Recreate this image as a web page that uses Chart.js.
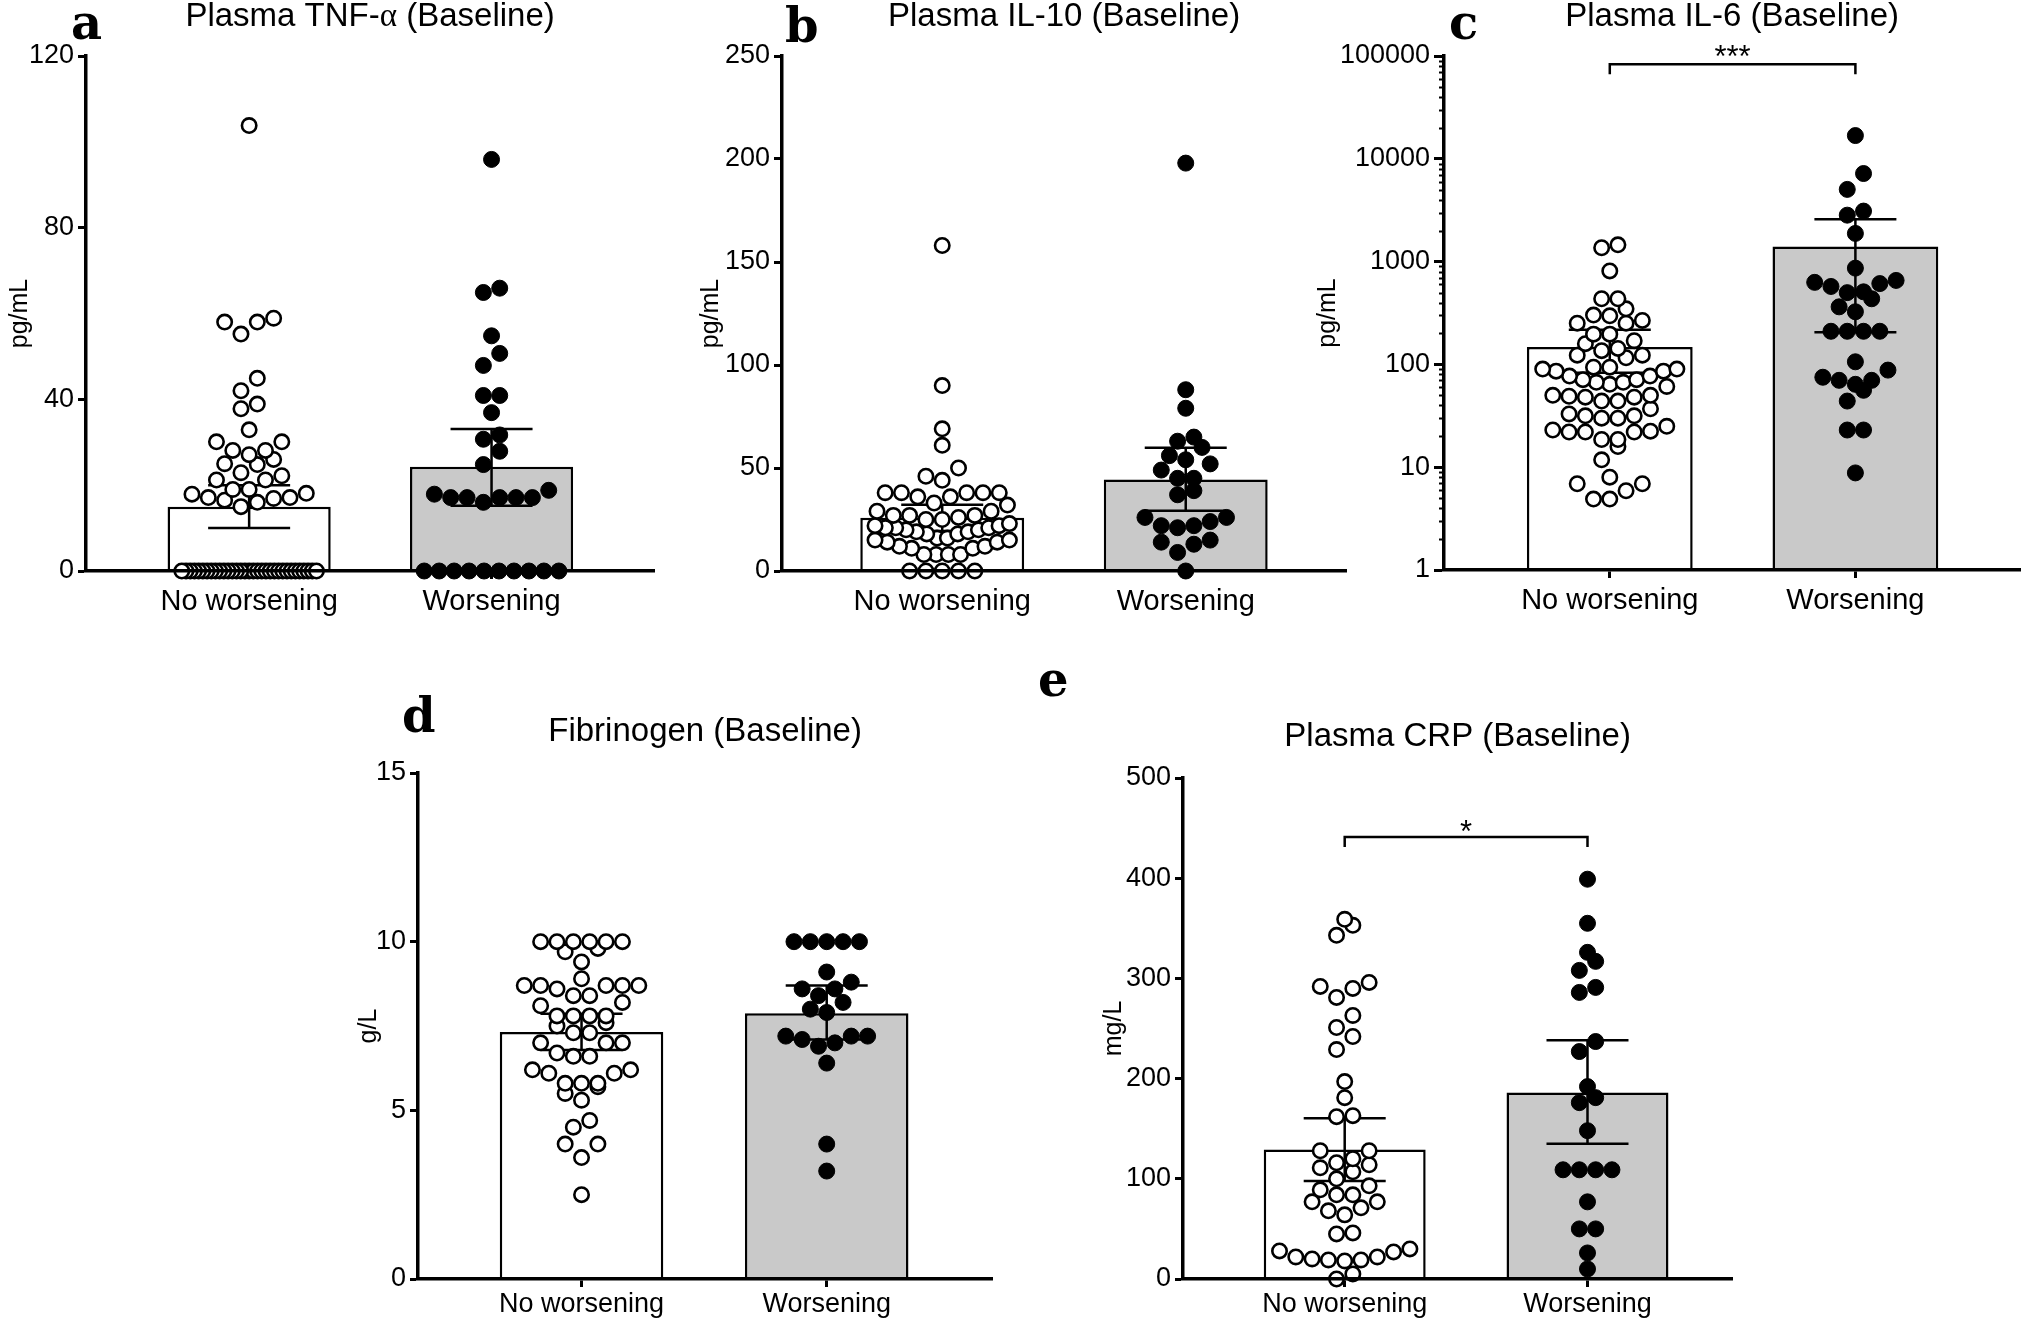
<!DOCTYPE html>
<html>
<head>
<meta charset="utf-8">
<script src="https://cdn.jsdelivr.net/npm/chart.js@4"></script>
<style>
  body { margin: 0; background: #fff; overflow: hidden; }
  #fig { position: relative; width: 2030px; height: 1322px; }
  canvas { position: absolute; }
</style>
</head>
<body>
<div id="fig">
  <canvas id="pa" width="664" height="640" style="left:0px;top:0px"></canvas>
  <canvas id="pb" width="694" height="640" style="left:662px;top:0px"></canvas>
  <canvas id="pc" width="730" height="640" style="left:1300px;top:0px"></canvas>
  <canvas id="pd" width="662" height="652" style="left:340px;top:670px"></canvas>
  <canvas id="pe" width="722" height="652" style="left:1020px;top:670px"></canvas>
</div>
<script>
// groups on the x axis
const groups = ["No worsening", "Worsening"];

// a - TNF-alpha (pg/mL)
const tnfNo = [103.8, 58.9, 58.0, 58.0, 55.2, 44.9, 42.0, 38.9, 37.8, 32.9, 30.1, 30.1,
  28.1, 28.1, 27.1, 26.0, 25.0, 24.8, 22.9, 22.2, 21.2, 21.2, 19.0, 19.0, 18.1, 17.9,
  17.1, 17.1, 16.9, 16.5, 16.0, 15.0,
  0, 0, 0, 0, 0, 0, 0, 0, 0, 0, 0, 0, 0, 0, 0, 0, 0, 0, 0, 0, 0, 0, 0, 0, 0, 0, 0, 0, 0, 0, 0, 0, 0];
const tnfYes = [95.9, 65.9, 64.9, 54.8, 50.7, 47.9, 40.9, 40.9, 36.9, 31.7, 30.7, 27.9,
  24.8, 18.8, 17.9, 17.1, 17.1, 17.1, 17.1, 17.1, 16.0, 0, 0, 0, 0, 0, 0, 0, 0, 0, 0];
const tnfMean = [15.0, 24.3];
const tnfLow = [10.0, 15.2];
const tnfHigh = [20.0, 33.1];
const tnfTicks = [0, 40, 80, 120];

// b - IL-10 (pg/mL)
const il10No = [158, 90, 69, 61, 50, 46, 44, 38, 38, 38, 38, 38, 36, 36, 33, 32, 29, 29,
  27, 27, 27, 26, 25, 25, 23, 22, 22, 21, 21, 21, 20, 20, 19, 19, 18, 18, 16, 16, 15, 15,
  14, 14, 12, 12, 11, 11, 8, 8, 8, 8, 0, 0, 0, 0, 0];
const il10Yes = [198, 88, 79, 65, 63, 60, 56, 54, 52, 49, 45, 45, 39, 37, 26, 26, 24, 22,
  22, 21, 15, 14, 13, 9, 0];
const il10Mean = [25.9, 44.4];
const il10Low = [19.4, 29.2];
const il10High = [32.2, 59.8];
const il10Ticks = [0, 50, 100, 150, 200, 250];

// c - IL-6 (pg/mL, log axis)
const il6No = [1455, 1364, 811, 435, 435, 347, 302, 297, 268, 252, 252, 197, 197, 170, 159,
  143, 136, 123, 123, 116, 94, 94, 90, 90, 86, 86, 77, 77, 71, 71, 67, 67, 64, 61, 50, 50,
  49, 48, 48, 44, 44, 37, 33, 31.6, 31.6, 30, 30, 25, 23, 22, 22, 22.4, 22, 18.6, 18.6,
  15.9, 11.8, 8.0, 6.9, 6.9, 5.9, 4.9, 4.9];
const il6Yes = [16830, 7190, 5040, 3100, 2830, 1880, 864, 656, 628, 611, 573, 508, 499, 435,
  363, 325, 210, 210, 210, 210, 106, 88, 75, 70, 70, 64, 56, 44, 23, 23, 8.8];
const il6Mean = [148, 1403];
const il6Low = [83, 206];
const il6High = [217, 2586];
const il6Ticks = [1, 10, 100, 1000, 10000, 100000];

// d - Fibrinogen (g/L)
const fibNo = [10.0, 10.0, 10.0, 10.0, 10.0, 10.0, 9.8, 9.7, 9.4, 8.9, 8.7, 8.7, 8.7, 8.7,
  8.7, 8.6, 8.4, 8.4, 8.2, 8.1, 7.8, 7.8, 7.8, 7.8, 7.6, 7.5, 7.3, 7.3, 7.0, 7.0, 7.0, 6.7,
  6.6, 6.6, 6.2, 6.2, 6.1, 6.1, 5.8, 5.8, 5.8, 5.7, 5.5, 5.3, 4.7, 4.5, 4.0, 4.0, 3.6, 2.5];
const fibYes = [10.0, 10.0, 10.0, 10.0, 10.0, 9.1, 8.8, 8.6, 8.6, 8.4, 8.2, 8.0, 7.9, 7.2,
  7.2, 7.2, 7.1, 7.0, 6.9, 6.4, 4.0, 3.2];
const fibMean = [7.32, 7.88];
const fibLow = [6.79, 7.10];
const fibHigh = [7.86, 8.70];
const fibTicks = [0, 5, 10, 15];

// e - CRP (mg/L)
const crpNo = [359, 353, 343, 296, 292, 290, 281, 263, 251, 242, 229, 197, 181, 163, 162,
  128, 128, 120, 116, 114, 111, 107, 100, 93, 89, 84, 84, 77, 77, 71, 68, 64, 46, 45, 30,
  28, 27, 22, 22, 20, 19, 19, 18, 5, 0];
const crpYes = [399, 355, 326, 317, 308, 291, 286, 237, 227, 192, 181, 176, 148, 109, 109,
  109, 109, 77, 50, 50, 26, 10];
const crpMean = [129.3, 186.2];
const crpLow = [97.7, 135.1];
const crpHigh = [160.4, 238.2];
const crpTicks = [0, 100, 200, 300, 400, 500];

const SANS = '"Liberation Sans", Arial, Helvetica, sans-serif';
const SERIF = '"Liberation Serif", "Times New Roman", serif';
const LETTER = '"DejaVu Serif", "Liberation Serif", serif';
const CAP = 41;           // half width of error bar caps, px
const STEP = 16.5;        // swarm spacing, px
const ROW = 16;           // swarm row height, px
const MAXW = 136;         // widest swarm row, px

// lays points out in rows like Prism does, lowest value of a row in the middle
function swarm(chart, values, center) {
  const xs = chart.scales.x, ys = chart.scales.y;
  const unit = xs.getPixelForValue(1) - xs.getPixelForValue(0);
  const pts = values.map(v => ({ v, py: ys.getPixelForValue(v) })).sort((a, b) => b.py - a.py);
  const rows = [];
  let row = null;
  for (const p of pts) {
    if (!row || row[0].py - p.py >= ROW) { row = []; rows.push(row); }
    row.push(p);
  }
  const out = [];
  for (const r of rows) {
    const n = r.length;
    const step = n > 1 ? Math.min(STEP, MAXW / (n - 1)) : 0;
    const slots = [];
    for (let k = 0; k < n; k++) slots.push((k - (n - 1) / 2) * step);
    slots.sort((a, b) => Math.abs(a) - Math.abs(b) || a - b);
    r.forEach((p, i) => out.push({ x: center + slots[i] / unit, y: p.v }));
  }
  return out;
}

const panelDecor = {
  id: 'panelDecor',
  afterDatasetDraw(chart, args, o) {
    if (args.index !== 0) return;
    const { ctx } = chart;
    const x = chart.scales.x, y = chart.scales.y;
    ctx.save();
    ctx.strokeStyle = '#000';
    ctx.lineWidth = 2.5;
    o.low.forEach((lo, i) => {
      const px = x.getPixelForValue(i);
      const yl = y.getPixelForValue(lo), yh = y.getPixelForValue(o.high[i]);
      ctx.beginPath();
      ctx.moveTo(px, yl); ctx.lineTo(px, yh);
      ctx.moveTo(px - CAP, yl); ctx.lineTo(px + CAP, yl);
      ctx.moveTo(px - CAP, yh); ctx.lineTo(px + CAP, yh);
      ctx.stroke();
    });
    ctx.restore();
  },
  afterDraw(chart, args, o) {
    const { ctx, chartArea: ca } = chart;
    const x = chart.scales.x, y = chart.scales.y;
    ctx.save();
    ctx.fillStyle = '#000';
    ctx.strokeStyle = '#000';
    // title, drawn in runs so the greek letter can be serif
    ctx.textBaseline = 'middle';
    ctx.textAlign = 'left';
    let total = 0;
    o.title.forEach(([t, fam]) => { ctx.font = '33px ' + fam; total += ctx.measureText(t).width; });
    let tx = (ca.left + ca.right) / 2 - total / 2;
    o.title.forEach(([t, fam]) => {
      ctx.font = '33px ' + fam;
      ctx.fillText(t, tx, o.titleY);
      tx += ctx.measureText(t).width;
    });
    // panel letter
    ctx.textBaseline = 'alphabetic';
    ctx.font = 'bold 48px ' + LETTER;
    ctx.fillText(o.letter[0], o.letter[1], o.letter[2]);
    // significance bracket
    if (o.bracket) {
      const x0 = x.getPixelForValue(0), x1 = x.getPixelForValue(1);
      const yb = y.getPixelForValue(o.bracket.at);
      ctx.lineWidth = 2.5;
      ctx.beginPath();
      ctx.moveTo(x0, yb + 10); ctx.lineTo(x0, yb); ctx.lineTo(x1, yb); ctx.lineTo(x1, yb + 10);
      ctx.stroke();
      ctx.font = '31px ' + SANS;
      ctx.textAlign = 'center';
      ctx.fillText(o.bracket.text, (x0 + x1) / 2, yb + o.bracket.dy);
    }
    // minor ticks of a log axis
    if (o.minor) {
      ctx.lineWidth = 2;
      ctx.beginPath();
      for (let d = 1; d < 100000; d *= 10) {
        for (let k = 2; k <= 9; k++) {
          const py = Math.round(y.getPixelForValue(k * d)) + 0.5;
          ctx.moveTo(ca.left - 5, py); ctx.lineTo(ca.left, py);
        }
      }
      ctx.stroke();
    }
    ctx.restore();
  }
};
Chart.register(panelDecor);

function buildPanel(p) {
  const tickFont = { family: SANS, size: 27 };
  const chart = new Chart(document.getElementById(p.id), {
    type: 'bar',
    data: {
      datasets: [
        {
          type: 'bar',
          data: p.mean.map((m, i) => ({ x: i, y: m })),
          backgroundColor: ['#ffffff', '#c9c9c9'],
          borderColor: '#000',
          borderWidth: 2.5,
          barPercentage: p.barPct,
          categoryPercentage: 1,
          order: 2
        },
        {
          type: 'scatter', data: [], order: 1, clip: false,
          pointRadius: 7.2, pointBorderWidth: 2.6,
          pointBackgroundColor: '#fff', pointBorderColor: '#000'
        },
        {
          type: 'scatter', data: [], order: 1, clip: false,
          pointRadius: 8, pointBorderWidth: 1,
          pointBackgroundColor: '#000', pointBorderColor: '#000'
        }
      ]
    },
    options: {
      responsive: false,
      animation: false,
      devicePixelRatio: 1,
      events: [],
      layout: { padding: { top: p.padTop, right: p.padRight, bottom: 0, left: 0 } },
      plugins: {
        legend: { display: false },
        tooltip: { enabled: false },
        panelDecor: {
          low: p.low, high: p.high, title: p.title, titleY: p.titleY,
          letter: p.letter, bracket: p.bracket, minor: p.minor
        }
      },
      scales: {
        x: {
          type: 'linear', min: p.xMin, max: p.xMax, offset: false,
          afterFit: s => { s.height = p.axisH; },
          afterBuildTicks: s => { s.ticks = [{ value: 0 }, { value: 1 }]; },
          ticks: {
            font: { family: SANS, size: p.catSize }, color: '#000', padding: p.catPad,
            maxRotation: 0, autoSkip: false, callback: v => groups[v]
          },
          grid: {
            offset: false, display: true, drawOnChartArea: false, drawTicks: true,
            tickLength: 8, tickWidth: 3, tickColor: '#000'
          },
          border: { display: true, color: '#000', width: 3.5, z: 1 }
        },
        y: {
          type: p.yType, min: p.yTicks[0], max: p.yTicks[p.yTicks.length - 1],
          afterFit: s => { s.width = p.axisW; },
          afterBuildTicks: s => { s.ticks = p.yTicks.map(v => ({ value: v })); },
          ticks: { font: tickFont, color: '#000', padding: 4, callback: v => String(v) },
          grid: {
            display: true, drawOnChartArea: false, drawTicks: true,
            tickLength: p.yTickLen, tickWidth: 3, tickColor: '#000'
          },
          border: { display: true, color: '#000', width: 3.5, z: 1 },
          title: {
            display: true, text: p.yTitle, color: '#000',
            font: { family: SANS, size: 25 }, padding: { top: p.yTitlePad, bottom: 0 }
          }
        }
      }
    }
  });
  chart.data.datasets[1].data = swarm(chart, p.open, 0);
  chart.data.datasets[2].data = swarm(chart, p.filled, 1);
  chart.update('none');
}

buildPanel({
  id: 'pa', padTop: 56, padRight: 4, axisW: 86, axisH: 69, xMin: -0.673, xMax: 1.671, barPct: 0.673,
  yType: 'linear', yTicks: tnfTicks, yTickLen: 8, yTitle: 'pg/mL', yTitlePad: 5,
  catSize: 29, catPad: 6, open: tnfNo, filled: tnfYes, mean: tnfMean, low: tnfLow, high: tnfHigh,
  title: [['Plasma TNF-', SANS], ['\u03b1', SERIF], [' (Baseline)', SANS]], titleY: 17,
  letter: ['a', 71, 39]
});
buildPanel({
  id: 'pb', padTop: 56, padRight: 3, axisW: 120, axisH: 69, xMin: -0.658, xMax: 1.659, barPct: 0.673,
  yType: 'linear', yTicks: il10Ticks, yTickLen: 8, yTitle: 'pg/mL', yTitlePad: 34,
  catSize: 29, catPad: 6, open: il10No, filled: il10Yes, mean: il10Mean, low: il10Low, high: il10High,
  title: [['Plasma IL-10 (Baseline)', SANS]], titleY: 17,
  letter: ['b', 123, 42]
});
buildPanel({
  id: 'pc', padTop: 56, padRight: 2, axisW: 144, axisH: 70, xMin: -0.675, xMax: 1.671, barPct: 0.675,
  yType: 'logarithmic', yTicks: il6Ticks, yTickLen: 10, yTitle: 'pg/mL', yTitlePad: 13,
  catSize: 29, catPad: 6, open: il6No, filled: il6Yes, mean: il6Mean, low: il6Low, high: il6High,
  title: [['Plasma IL-6 (Baseline)', SANS]], titleY: 17,
  letter: ['c', 149, 39],
  bracket: { at: 83000, text: '***', dy: 3 }, minor: true
});
buildPanel({
  id: 'pd', padTop: 103, padRight: 5, axisW: 78, axisH: 43, xMin: -0.667, xMax: 1.675, barPct: 0.667,
  yType: 'linear', yTicks: fibTicks, yTickLen: 8, yTitle: 'g/L', yTitlePad: 14,
  catSize: 27, catPad: 1, open: fibNo, filled: fibYes, mean: fibMean, low: fibLow, high: fibHigh,
  title: [['Fibrinogen (Baseline)', SANS]], titleY: 62,
  letter: ['d', 62, 62]
});
buildPanel({
  id: 'pe', padTop: 108, padRight: 3, axisW: 163, axisH: 43, xMin: -0.666, xMax: 1.596, barPct: 0.667,
  yType: 'linear', yTicks: crpTicks, yTickLen: 8, yTitle: 'mg/L', yTitlePad: 79,
  catSize: 27, catPad: 1, open: crpNo, filled: crpYes, mean: crpMean, low: crpLow, high: crpHigh,
  title: [['Plasma CRP (Baseline)', SANS]], titleY: 67,
  letter: ['e', 18, 26],
  bracket: { at: 441, text: '*', dy: 5 }
});
</script>
</body>
</html>
